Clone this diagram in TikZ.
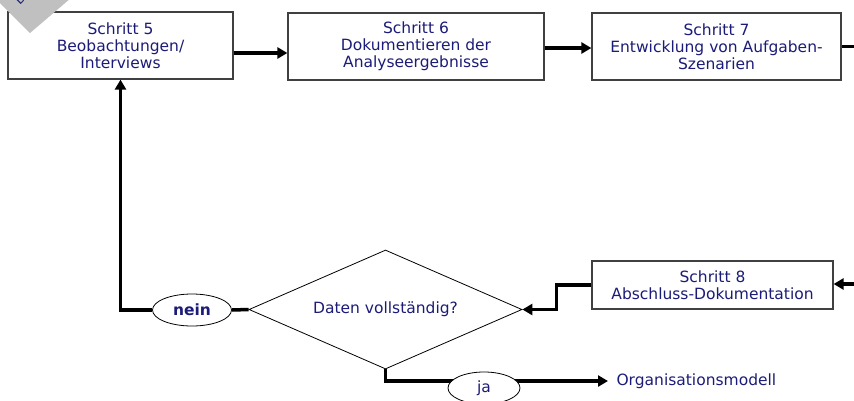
\documentclass[tikz,border=0pt]{standalone}
\usepackage{fontspec}
\setmainfont{DejaVu Sans}
\usetikzlibrary{arrows.meta}
\usetikzlibrary{shapes.geometric}
\definecolor{textblue}{RGB}{28,28,120}
\definecolor{framegray}{RGB}{64,64,64}
\definecolor{cornergray}{RGB}{192,192,192}

\begin{document}
\begin{tikzpicture}[x=1pt, y=-1pt,
    every node/.style={text=textblue, font=\fontsize{15.5}{17}\selectfont},
    stepbox/.style={draw=framegray, line width=1.2pt, fill=white, align=center, inner sep=0pt, minimum height=67pt},
    decision/.style={diamond, draw=black, line width=0.8pt, fill=white, aspect=2.3, inner sep=0pt, minimum width=273pt, minimum height=119pt},
    answer/.style={ellipse, draw=black, line width=0.8pt, fill=white, inner sep=0pt, minimum height=32pt},
    flow/.style={line width=3.5pt, -{Triangle[length=10pt,width=11pt]}},
    flowline/.style={line width=3.5pt}]
    \useasboundingbox (0,0) rectangle (854,400);
    \clip (0,0) rectangle (854,400);
    \node[stepbox, minimum width=225pt] (s5) at (120.5,45.5) {Schritt 5\\Beobachtungen/\\Interviews};
    \node[stepbox, minimum width=256pt] (s6) at (416,46.5) {Schritt 6\\Dokumentieren der\\Analyseergebnisse};
    \node[stepbox, minimum width=249pt] (s7) at (716.5,46.5) {Schritt 7\\Entwicklung von Aufgaben-\\Szenarien};
    \node[stepbox, minimum width=241pt, minimum height=48pt] (s8) at (712.5,285) {Schritt 8\\Abschluss-Dokumentation};
    \node[decision] (check) at (385.5,309.5) {Daten vollständig?};
    \node[answer, minimum width=79pt, font=\bfseries\fontsize{15.5}{17}\selectfont] (nein) at (192,310) {nein};
    \node[anchor=west] (modell) at (613,381) {Organisationsmodell};
    \coordinate (out7) at (854,47);
    \coordinate (in8) at (854,284);
    \fill[cornergray] (30,33) -- (71,-2) -- (32,-40) -- (-5,-2) -- cycle;
    \node[rotate=45, inner sep=0pt, font=\fontsize{13}{13}\selectfont] (mark) at (20,-1) {D};
    \draw[flow] ([yshift=-7.5pt]s5.east) -- ([yshift=-7.5pt]s5.east -| s6.west);
    \draw[flow] ([yshift=-1.5pt]s6.east) -- ([yshift=-1.5pt]s6.east -| s7.west);
    \draw[flowline] (s7.east) -- (s7.east -| out7);
    \draw[flow] (in8) -- (in8 -| s8.east);
    \draw[flow] (s8.west) -- ++(-35,0) |- (check.east);
    \draw[flowline] (check.west) -- (nein.east);
    \draw[flow] (nein.west) -| (s5.south);
    \draw[flow] (check.south) |- ([xshift=-5pt]modell.west);
    \node[answer, minimum width=72pt] (ja) at (484,388) {ja};
\end{tikzpicture}
\end{document}
